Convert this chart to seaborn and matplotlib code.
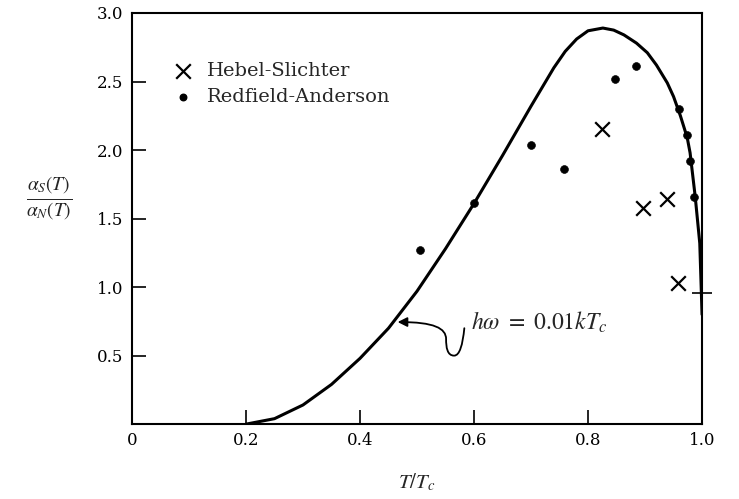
import matplotlib
matplotlib.use("Agg")
import matplotlib.pyplot as plt
import seaborn as sns
import pandas as pd
from matplotlib.path import Path
from matplotlib.patches import FancyArrowPatch

# Theoretical curve (h omega = 0.01 kTc)
curve_x = [0.2, 0.25, 0.3, 0.35, 0.4, 0.45, 0.5, 0.55, 0.6, 0.65, 0.7, 0.72, 0.74,
           0.76, 0.78, 0.80, 0.826, 0.845, 0.863, 0.885, 0.904, 0.92, 0.939, 0.95,
           0.962, 0.974, 0.979, 0.988, 0.996, 1.0]
curve_y = [0.0, 0.04, 0.14, 0.29, 0.48, 0.70, 0.97, 1.28, 1.61, 1.96, 2.32, 2.46, 2.60,
           2.72, 2.81, 2.87, 2.89, 2.875, 2.84, 2.78, 2.71, 2.62, 2.49, 2.39,
           2.25, 2.09, 1.98, 1.66, 1.32, 0.8]

# Hebel-Slichter data (crosses)
hs_x = [0.824, 0.897, 0.938, 0.957]
hs_y = [2.15, 1.58, 1.64, 1.03]

# Redfield-Anderson data (dots)
ra_x = [0.506, 0.6, 0.7, 0.757, 0.847, 0.885, 0.96, 0.974, 0.979, 0.986]
ra_y = [1.27, 1.61, 2.04, 1.86, 2.52, 2.61, 2.30, 2.11, 1.92, 1.66]

# Short horizontal mark at Tc
tc_x = [1.0]
tc_y = [0.96]

x_ticks = [0, 0.2, 0.4, 0.6, 0.8, 1.0]
x_ticklabels = ["0", "0.2", "0.4", "0.6", "0.8", "1.0"]
y_ticks = [0.5, 1.0, 1.5, 2.0, 2.5, 3.0]
y_ticklabels = ["0.5", "1.0", "1.5", "2.0", "2.5", "3.0"]

sns.set_style("white")
plt.rcParams["font.family"] = ["DejaVu Serif", "Liberation Serif"]
plt.rcParams["mathtext.fontset"] = "stix"

fig = plt.figure(figsize=(7.39, 4.99), dpi=100)
ax = fig.add_axes([0.1786, 0.150, 0.7714, 0.824])

curve_df = pd.DataFrame({"x": curve_x, "y": curve_y})
sns.lineplot(data=curve_df, x="x", y="y", ax=ax, color="black", linewidth=2.2,
             sort=False, estimator=None, solid_joinstyle="round",
             solid_capstyle="round")

hs_df = pd.DataFrame({"x": hs_x, "y": hs_y})
sns.scatterplot(data=hs_df, x="x", y="y", ax=ax, marker="x", s=110, color="black",
                linewidth=1.6)

ra_df = pd.DataFrame({"x": ra_x, "y": ra_y})
sns.scatterplot(data=ra_df, x="x", y="y", ax=ax, marker="o", s=32, color="black",
                edgecolor="black")

tc_df = pd.DataFrame({"x": tc_x, "y": tc_y})
sns.scatterplot(data=tc_df, x="x", y="y", ax=ax, marker="_", s=220, color="black",
                linewidth=1.2, clip_on=False)

# In-plot legend
ax.scatter([0.089], [2.58], marker="x", s=110, color="black", linewidth=1.6)
ax.text(0.132, 2.58, "Hebel-Slichter", fontsize=14, va="center", ha="left")
ax.scatter([0.089], [2.39], marker="o", s=22, color="black")
ax.text(0.132, 2.39, "Redfield-Anderson", fontsize=14, va="center", ha="left")

# Curly annotation arrow (from label to the curve)
verts = [(0.583, 0.70),
         (0.580, 0.58), (0.575, 0.50), (0.565, 0.50),
         (0.553, 0.50), (0.551, 0.56), (0.551, 0.62),
         (0.551, 0.70), (0.530, 0.745), (0.466, 0.745)]
codes = [Path.MOVETO] + [Path.CURVE4] * 9
arrow = FancyArrowPatch(path=Path(verts, codes), arrowstyle="-|>", color="black",
                        lw=1.3, mutation_scale=14, transform=ax.transData)
ax.add_patch(arrow)
ax.text(0.594, 0.745, r"$h\omega\ =\ 0.01kT_c$", fontsize=17, va="center", ha="left")

ax.set_xlim(0, 1.0)
ax.set_ylim(0, 3.0)
ax.set_xticks(x_ticks)
ax.set_xticklabels(x_ticklabels)
ax.set_yticks(y_ticks)
ax.set_yticklabels(y_ticklabels)
ax.tick_params(axis="both", direction="in", length=10, width=1.2, labelsize=12,
               colors="black", bottom=True, left=True, top=False, right=False, pad=6)
for s in ax.spines.values():
    s.set_visible(True)
    s.set_color("black")
    s.set_linewidth(1.5)

ax.set_xlabel(r"$T/T_c$", fontsize=15, labelpad=16)
ax.set_ylabel(r"$\frac{\alpha_S(T)}{\alpha_N(T)}$", fontsize=20, rotation=0,
              labelpad=30, va="center")
ax.yaxis.set_label_coords(-0.145, 0.55)

fig.savefig("out.png", dpi=100)
